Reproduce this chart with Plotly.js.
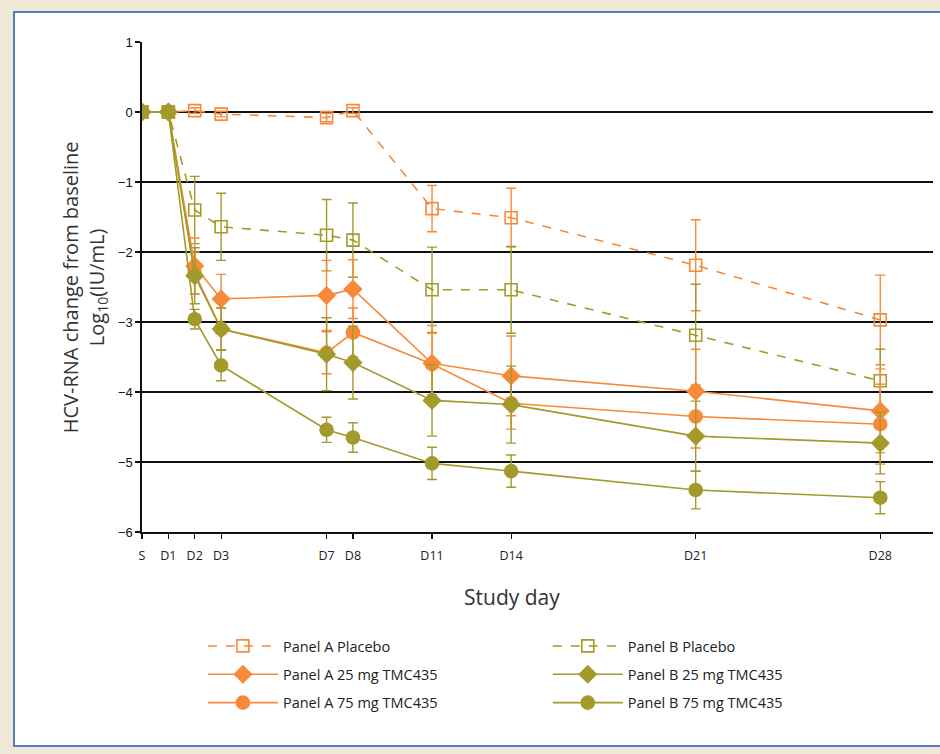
<!DOCTYPE html>
<html>
<head>
<meta charset="utf-8">
<script src="https://cdn.plot.ly/plotly-3.0.1.min.js"></script>
<style>
  html, body { margin: 0; padding: 0; background: #efe8d6; width: 940px; height: 754px; overflow: hidden; }
  #box { position: absolute; left: 13px; top: 11px; width: 940px; height: 736px; background: #ffffff; border: 2px solid #5a7dbf; box-sizing: border-box; }
  #chart { position: absolute; left: 0; top: 0; width: 940px; height: 754px; }
</style>
</head>
<body>
<div id="box"></div>
<div id="chart"></div>
<script>
// ---- data ----
const days = [0, 1, 2, 3, 7, 8, 11, 14, 21, 28];
const tickText = ['S', 'D1', 'D2', 'D3', 'D7', 'D8', 'D11', 'D14', 'D21', 'D28'];
const yTicks = [1, 0, -1, -2, -3, -4, -5, -6];

const aPlacebo    = [0, 0, 0.02, -0.03, -0.08, 0.02, -1.38, -1.51, -2.19, -2.97];
const aPlaceboErr = [null, null, 0.04, 0.04, 0.06, 0.04, 0.33, 0.42, 0.65, 0.64];
const bPlacebo    = [0, 0, -1.40, -1.64, -1.76, -1.83, -2.54, -2.54, -3.19, -3.84];
const bPlaceboErr = [null, null, 0.48, 0.48, 0.51, 0.53, 0.61, 0.62, 0.73, 0.45];
const a25    = [0, 0, -2.20, -2.67, -2.62, -2.53, -3.59, -3.77, -3.99, -4.27];
const a25Err = [null, null, 0.40, 0.35, 0.50, 0.42, 0.54, 0.57, 0.60, 0.60];
const a75    = [0, 0, -2.30, -3.10, -3.44, -3.15, -3.60, -4.16, -4.35, -4.46];
const a75Err = [null, null, 0.30, 0.30, 0.30, 0.35, 0.44, 0.37, 0.45, 0.57];
const b25    = [0, 0, -2.34, -3.10, -3.46, -3.58, -4.12, -4.18, -4.63, -4.73];
const b25Err = [null, null, 0.40, 0.30, 0.52, 0.52, 0.51, 0.55, 0.50, 0.44];
const b75    = [0, 0, -2.96, -3.62, -4.54, -4.65, -5.02, -5.13, -5.40, -5.51];
const b75Err = [null, null, 0.14, 0.22, 0.18, 0.21, 0.23, 0.23, 0.27, 0.23];

const names = {
  aPl: 'Panel A Placebo', bPl: 'Panel B Placebo',
  a25: 'Panel A 25 mg TMC435', b25: 'Panel B 25 mg TMC435',
  a75: 'Panel A 75 mg TMC435', b75: 'Panel B 75 mg TMC435'
};

const ORANGE = '#f68a3a';
const OLIVE = '#a29b2b';

function series(name, y, err, color, symbol, size, dashed, legend, group) {
  return {
    type: 'scatter', mode: 'lines+markers', name: name,
    x: days, y: y,
    legend: legend, legendgroup: group,
    line: { color: color, width: 1.6, dash: dashed ? 'dash' : 'solid' },
    marker: { color: color, symbol: symbol, size: size,
              line: { color: color, width: 1.6 } },
    error_y: { type: 'data', array: err, visible: true, color: color,
               thickness: 1.4, width: 5 }
  };
}

const traces = [
  series(names.aPl, aPlacebo, aPlaceboErr, ORANGE, 'square-open', 12, true, 'legend', 'g1'),
  series(names.bPl, bPlacebo, bPlaceboErr, OLIVE, 'square-open', 12, true, 'legend2', 'g2'),
  series(names.a25, a25, a25Err, ORANGE, 'diamond', 13, false, 'legend', 'g3'),
  series(names.a75, a75, a75Err, ORANGE, 'circle', 13, false, 'legend', 'g5'),
  series(names.b25, b25, b25Err, OLIVE, 'diamond', 13, false, 'legend2', 'g4'),
  series(names.b75, b75, b75Err, OLIVE, 'circle', 13, false, 'legend2', 'g6')
];
traces[0].legendrank = 1; traces[2].legendrank = 2; traces[3].legendrank = 3;
traces[1].legendrank = 1; traces[4].legendrank = 2; traces[5].legendrank = 3;

const legendCommon = {
  orientation: 'v', bgcolor: 'rgba(0,0,0,0)', borderwidth: 0,
  font: { family: 'Open Sans, sans-serif', size: 14.5, color: '#222' },
  itemwidth: 70, tracegroupgap: 6.5, xanchor: 'left', yanchor: 'top', y: -0.2,
  traceorder: 'grouped'
};

const layout = {
  width: 940, height: 754,
  margin: { l: 141.5, r: 7, t: 42, b: 221.5 },
  paper_bgcolor: 'rgba(0,0,0,0)', plot_bgcolor: 'rgba(0,0,0,0)',
  showlegend: true,
  legend: Object.assign({}, legendCommon, { x: 0.077 }),
  legend2: Object.assign({}, legendCommon, { x: 0.513 }),
  xaxis: {
    range: [0, 30], tickmode: 'array', tickvals: days, ticktext: tickText,
    showgrid: false, zeroline: false, showline: true, linecolor: '#111', linewidth: 1.6,
    ticks: 'outside', ticklen: 5, tickcolor: '#111', tickwidth: 1.2,
    ticklabelstandoff: 6,
    tickfont: { family: 'Open Sans, sans-serif', size: 12.5, color: '#222' }
  },
  yaxis: {
    range: [-6, 1], tickmode: 'array', tickvals: yTicks,
    showgrid: true, gridcolor: '#111', gridwidth: 1.6, zeroline: false,
    showline: true, linecolor: '#111', linewidth: 1.6,
    ticks: 'outside', ticklen: 5, tickcolor: '#111', tickwidth: 1.2,
    tickfont: { family: 'Liberation Sans, Arial, sans-serif', size: 13, color: '#111' }
  },
  annotations: [
    { text: 'HCV-RNA change from baseline<br>Log<sub>10</sub>(IU/mL)',
      xref: 'paper', yref: 'paper', x: -0.073, y: 0.5, xanchor: 'center', yanchor: 'middle',
      textangle: -90, showarrow: false,
      font: { family: 'Open Sans, sans-serif', size: 20, color: '#333' } },
    { text: 'Study day', xref: 'paper', yref: 'paper', x: 0.468, y: -0.1335,
      xanchor: 'center', yanchor: 'middle', showarrow: false,
      font: { family: 'Open Sans, sans-serif', size: 21, color: '#333' } }
  ]
};

Plotly.newPlot('chart', traces, layout, { displayModeBar: false, staticPlot: true });
</script>
</body>
</html>
